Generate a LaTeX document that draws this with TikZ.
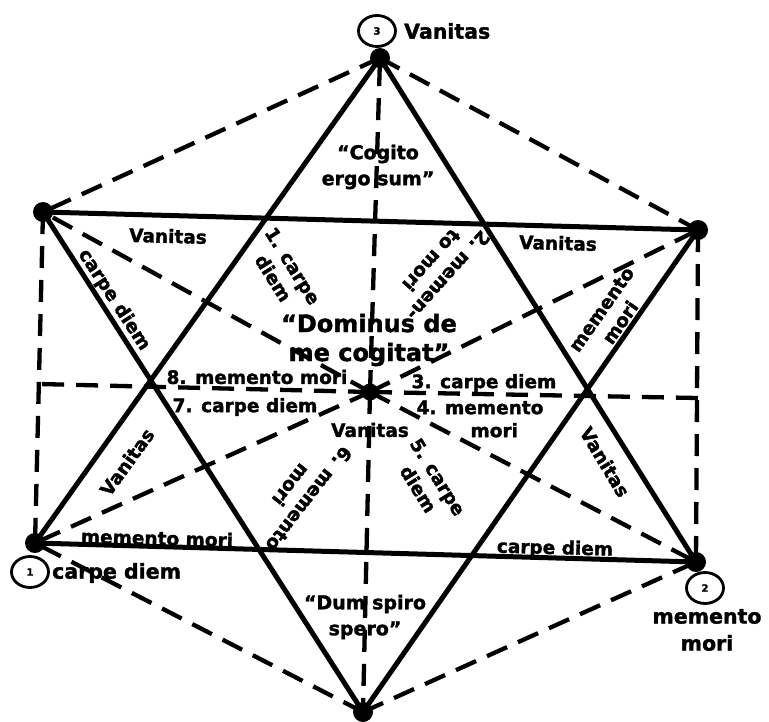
\documentclass[tikz,border=0pt]{standalone}
\usepackage{fontspec}
\setmainfont{DejaVu Sans}
\newfontfamily\heavyfont[FakeBold=1.6]{DejaVu Sans Bold}
\usetikzlibrary{shapes.geometric}
\begin{document}
\begin{tikzpicture}[x=1pt,y=-1pt,
  solidline/.style={line width=5pt,line cap=round},
  dashline/.style={line width=4.3pt,dash pattern=on 22pt off 12pt},
  vdot/.style={circle,fill=black,minimum size=20pt,inner sep=0pt},
  cdot/.style={circle,fill=black,minimum size=17pt,inner sep=0pt},
  numring/.style={ellipse,draw,line width=2.8pt,minimum width=37pt,minimum height=31pt,inner sep=0pt,font=\heavyfont\fontsize{10}{10}\selectfont},
  lab/.style={font=\heavyfont\fontsize{18.5}{23}\selectfont,inner sep=0pt,align=center},
  outer/.style={font=\heavyfont\fontsize{20.5}{27}\selectfont,inner sep=0pt,align=center},
  motto/.style={font=\heavyfont\fontsize{19}{26}\selectfont,inner sep=0pt,align=center},
  big/.style={font=\heavyfont\fontsize{24}{29}\selectfont,inner sep=0pt,align=center}]
\fill[white] (0,0) rectangle (769,721);
\useasboundingbox (0,0) rectangle (769,721);
% vertices
\coordinate (T) at (380,58);
\coordinate (UL) at (43,212);
\coordinate (UR) at (698,230);
\coordinate (LL) at (35,543);
\coordinate (LR) at (696,562);
\coordinate (B) at (363,712);
\coordinate (C) at (370,392);
\coordinate (HL) at (39,384);
\coordinate (HR) at (698,398);
% dashed hexagon
\draw[dashline] (T) -- (UL);
\draw[dashline] (T) -- (UR);
\draw[dashline] (UL) -- (LL);
\draw[dashline] (UR) -- (LR);
\draw[dashline] (B) -- (LL);
\draw[dashline] (B) -- (LR);
% dashed spokes
\draw[dashline] (C) -- (T);
\draw[dashline] (C) -- (B);
\draw[dashline] (C) -- (UL);
\draw[dashline] (C) -- (UR);
\draw[dashline] (C) -- (LL);
\draw[dashline] (C) -- (LR);
\draw[dashline] (C) -- (HL);
\draw[dashline] (C) -- (HR);
% solid triangles
\draw[solidline] (T) -- (LL) -- (LR) -- cycle;
\draw[solidline] (UL) -- (UR) -- (B) -- cycle;
% dots
\node[vdot] (Td) at (T) {};
\node[vdot] (ULd) at (UL) {};
\node[vdot] (URd) at (UR) {};
\node[vdot] (LLd) at (LL) {};
\node[vdot] (LRd) at (LR) {};
\node[vdot] (Bd) at (B) {};
\node[cdot] (Cd) at (C) {};
% numbered rings and outer labels
\node[numring] (n3) at (377,31) {3};
\node[outer,anchor=west] (o3) at (404,31) {Vanitas};
\node[numring] (n1) at (30,572) {1};
\node[outer,anchor=west] (o1) at (52,573) {carpe diem};
\node[numring] (n2) at (705,588) {2};
\node[outer] (o2) at (707,630) {memento\\mori};
% labels on solid lines
\node[lab,rotate=-1.5] (l1) at (168,236) {Vanitas};
\node[lab,rotate=-1.5] (l2) at (558,243) {Vanitas};
\node[lab,rotate=-57] (l3) at (114,300) {carpe diem};
\node[lab,rotate=54] (l4) at (127,462) {Vanitas};
\node[lab,rotate=-1.5] (l5) at (157,538) {memento mori};
\node[lab,rotate=-1.5] (l6) at (555,549) {carpe diem};
\node[lab,rotate=55] (l7) at (611,316) {memento\\mori};
\node[lab,rotate=-59] (l8) at (605,462) {Vanitas};
% mottos
\node[motto] (m1) at (378,167) {“Cogito\\ergo sum”};
\node[big] (m2) at (369,340) {“Dominus de\\me cogitat”};
\node[lab] (m3) at (370,430) {Vanitas};
\node[motto] (m4) at (365,617) {“Dum spiro\\spero”};
% numbered spoke labels
\node[lab,rotate=-58] (s1) at (283,272) {1. carpe\\diem};
\node[lab,rotate=-132] (s2) at (440,268) {2. memen-\\to mori};
\node[lab] (s3) at (484,383) {3. carpe diem};
\node[lab] (s4) at (480,419) {4. memento\\\phantom{4. }mori};
\node[lab,rotate=-58] (s5) at (428,483) {5. carpe\\diem};
\node[lab,rotate=-128] (s6) at (300,492) {6. memento\\mori};
\node[lab] (s7) at (245,407) {7. carpe diem};
\node[lab] (s8) at (257,377) {8. memento mori};
\end{tikzpicture}
\end{document}
